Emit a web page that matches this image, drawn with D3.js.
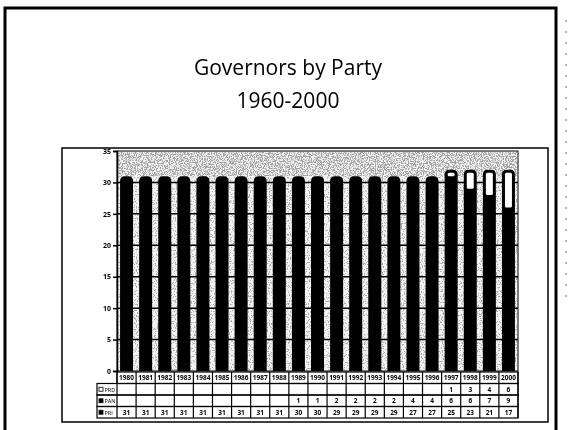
<!DOCTYPE html>
<html>
<head>
<meta charset="utf-8">
<script src="https://cdn.jsdelivr.net/npm/d3@7"></script>
<style>
  html, body { margin: 0; padding: 0; background: #fff; }
  svg { display: block; opacity: 0.999; }
  text { font-family: "Open Sans", "Liberation Sans", sans-serif; fill: #000; }
</style>
</head>
<body>
<div id="chart"></div>
<script>
// --- Data (Mexican governors by party) ---
const years = ["1980","1981","1982","1983","1984","1985","1986","1987","1988","1989","1990",
               "1991","1992","1993","1994","1995","1996","1997","1998","1999","2000"];
const pri = [31,31,31,31,31,31,31,31,31,30,30,29,29,29,29,27,27,25,23,21,17];
const pan = [0,0,0,0,0,0,0,0,0,1,1,2,2,2,2,4,4,6,6,7,9];
const prd = [0,0,0,0,0,0,0,0,0,0,0,0,0,0,0,0,0,1,3,4,6];
const yTicks = [0,5,10,15,20,25,30,35];
const parties = ["PRD","PAN","PRI"];

const W = 574, H = 430;
const svg = d3.select("#chart").append("svg").attr("width", W).attr("height", H);

// speckle texture (photocopy look)
const defs = svg.append("defs");
function speckle(id, grey, k, t) {
    const f = defs.append("filter").attr("id", id)
        .attr("x", 0).attr("y", 0).attr("width", 1).attr("height", 1);
    f.append("feTurbulence").attr("type", "fractalNoise")
        .attr("baseFrequency", 0.85).attr("numOctaves", 2).attr("seed", 3).attr("result", "n");
    f.append("feColorMatrix").attr("in", "n").attr("type", "matrix")
        .attr("values", `0 0 0 0 ${grey}  0 0 0 0 ${grey}  0 0 0 0 ${grey}  ${k} 0 0 0 ${-t}`);
}
speckle("dense", 0.35, 7, 3.1);
speckle("light", 0.4, 9, 4.9);

svg.append("rect").attr("width", W).attr("height", H).attr("fill", "#fff");

// slide frame
svg.append("path").attr("d", "M5,432V8H556V432")
    .attr("fill", "none").attr("stroke", "#000").attr("stroke-width", 3);
svg.append("line").attr("x1", 566).attr("x2", 566).attr("y1", 20).attr("y2", 300)
    .attr("stroke", "#999").attr("stroke-width", 1.5).attr("stroke-dasharray", "2,9");

// title
svg.append("text").attr("x", 288).attr("y", 75).attr("text-anchor", "middle")
    .attr("font-size", 21).text("Governors by Party");
svg.append("text").attr("x", 288).attr("y", 108).attr("text-anchor", "middle")
    .attr("font-size", 21).text("1960-2000");

// chart box
svg.append("rect").attr("x", 62).attr("y", 148).attr("width", 486).attr("height", 274)
    .attr("fill", "#fff").attr("stroke", "#000").attr("stroke-width", 1.5);

const x0 = 117, x1 = 518;
const xCol = d3.scaleBand().domain(years).range([x0, x1]);
const x = d3.scaleBand().domain(years).range([x0, x1]).paddingInner(0.32).paddingOuter(0.16);
const y = d3.scaleLinear().domain([0, 35]).range([371, 151]);

// plot area background with speckle
const plot = svg.append("g");
plot.append("rect").attr("x", x0).attr("y", y(35)).attr("width", x1 - x0).attr("height", y(0) - y(35))
    .attr("fill", "#f4f4f4").attr("stroke", "#000").attr("stroke-width", 1);
plot.append("rect").attr("x", x0 + 1).attr("y", y(35) + 1).attr("width", x1 - x0 - 2).attr("height", y(0) - y(35) - 2)
    .attr("filter", "url(#light)");
plot.append("rect").attr("x", x0 + 1).attr("y", y(35) + 1).attr("width", x1 - x0 - 2).attr("height", y(31.3) - y(35))
    .attr("filter", "url(#dense)");

// gridlines
plot.selectAll("line.grid").data(yTicks.filter(d => d > 0 && d < 35)).join("line")
    .attr("x1", x0).attr("x2", x1).attr("y1", d => y(d)).attr("y2", d => y(d))
    .attr("stroke", "#000").attr("stroke-width", 1.5);

// stacked bars
const rows = years.map((yr, i) => ({ year: yr, PRI: pri[i], PAN: pan[i], PRD: prd[i] }));
const stack = d3.stack().keys(["PRI", "PAN", "PRD"])(rows);
const bw = x.bandwidth(), r = 5;
const bars = plot.append("g");
rows.forEach((d, i) => {
    const total = stack[2][i][1];
    const bx = x(d.year), top = y(total), bot = y(0);
    // whole column, rounded top
    bars.append("path")
        .attr("d", `M${bx},${bot}V${top + r}Q${bx},${top} ${bx + r},${top}H${bx + bw - r}Q${bx + bw},${top} ${bx + bw},${top + r}V${bot}Z`)
        .attr("fill", "#000");
    // PRD segment drawn white inside the black outline
    if (d.PRD > 0) {
        const s = stack[2][i];
        bars.append("rect")
            .attr("x", bx + 3).attr("y", y(s[1]) + 3)
            .attr("width", bw - 6).attr("height", Math.max(1, y(s[0]) - y(s[1]) - 3))
            .attr("rx", 1.5).attr("fill", "#fff");
    }
});

// y axis
const yAxis = d3.axisLeft(y).tickValues(yTicks).tickSize(4).tickPadding(2);
const ya = svg.append("g").attr("transform", `translate(${x0},0)`).call(yAxis);
ya.select(".domain").attr("stroke-width", 1.5);
ya.selectAll("line").attr("stroke-width", 1.5);
ya.selectAll("text").attr("font-size", 7).attr("font-weight", "bold")
    .attr("font-family", "'Liberation Sans', sans-serif").attr("fill", "#000");

// data table
const tTop = 372, rh = 11.5;
const table = svg.append("g").attr("font-family", "'Liberation Sans', sans-serif")
    .attr("font-size", 6.5).attr("font-weight", "bold");
// header row (years)
table.append("rect").attr("x", x0).attr("y", tTop).attr("width", x1 - x0).attr("height", rh)
    .attr("fill", "none").attr("stroke", "#000").attr("stroke-width", 1.2);
table.selectAll("text.yr").data(years).join("text")
    .attr("x", d => xCol(d) + xCol.bandwidth() / 2).attr("y", tTop + rh / 2 + 2.4)
    .attr("text-anchor", "middle").attr("fill", "#000").text(d => d);
const series = [prd, pan, pri];
series.forEach((vals, k) => {
    const ry = tTop + rh * (k + 1);
    table.append("rect").attr("x", 97).attr("y", ry).attr("width", x1 - 97).attr("height", rh)
        .attr("fill", "none").attr("stroke", "#000").attr("stroke-width", 1.2);
    table.append("rect").attr("x", 99).attr("y", ry + rh / 2 - 2).attr("width", 4).attr("height", 4)
        .attr("fill", k === 0 ? "#fff" : "#000").attr("stroke", "#000").attr("stroke-width", 0.8);
    table.append("text").attr("x", 104.5).attr("y", ry + rh / 2 + 2.3).attr("fill", "#000")
        .attr("font-weight", "normal").attr("font-size", 5.5).text(parties[k]);
    table.selectAll(null).data(years).join("text")
        .attr("x", d => xCol(d) + xCol.bandwidth() / 2).attr("y", ry + rh / 2 + 2.4)
        .attr("text-anchor", "middle").attr("fill", "#000").text((d, i) => vals[i] ? vals[i] : "");
});
// column separators
table.selectAll("line.col").data(years).join("line")
    .attr("x1", d => xCol(d)).attr("x2", d => xCol(d))
    .attr("y1", tTop).attr("y2", tTop + rh * 4)
    .attr("stroke", "#000").attr("stroke-width", 1.2);
table.append("line").attr("x1", x1).attr("x2", x1).attr("y1", tTop).attr("y2", tTop + rh * 4)
    .attr("stroke", "#000").attr("stroke-width", 1.2);
</script>
</body>
</html>
